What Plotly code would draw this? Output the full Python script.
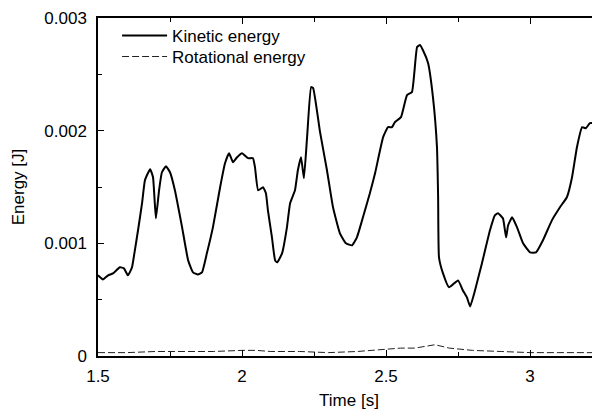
import plotly.graph_objects as go

# Kinetic energy (time in s, energy in J)
kin_t = [1.500, 1.517, 1.535, 1.552, 1.576, 1.590, 1.604, 1.618, 1.628, 1.639,
         1.653, 1.663, 1.681, 1.691, 1.701, 1.712, 1.722, 1.736, 1.750, 1.767,
         1.792, 1.813, 1.830, 1.847, 1.861, 1.878, 1.899, 1.924, 1.941, 1.955,
         1.969, 1.983, 2.000, 2.021, 2.038, 2.045, 2.056, 2.073, 2.083, 2.090,
         2.104, 2.115, 2.122, 2.139, 2.156, 2.167, 2.184, 2.194, 2.205, 2.215,
         2.226, 2.240, 2.247, 2.271, 2.295, 2.316, 2.340, 2.361, 2.382, 2.399,
         2.420, 2.444, 2.462, 2.490, 2.507, 2.521, 2.531, 2.552, 2.573, 2.590,
         2.608, 2.618, 2.628, 2.646, 2.663, 2.677, 2.681, 2.684, 2.698, 2.719,
         2.750, 2.767, 2.781, 2.792, 2.809, 2.833, 2.861, 2.878, 2.889, 2.906,
         2.917, 2.924, 2.938, 2.955, 2.976, 3.000, 3.021, 3.045, 3.076, 3.104,
         3.128, 3.146, 3.163, 3.181, 3.194, 3.208, 3.219, 3.233, 3.240, 3.247]
kin_e = [0.716, 0.680, 0.716, 0.733, 0.787, 0.778, 0.716, 0.787, 0.938, 1.116,
         1.356, 1.560, 1.658, 1.587, 1.222, 1.471, 1.631, 1.684, 1.631, 1.471,
         1.142, 0.849, 0.742, 0.724, 0.742, 0.911, 1.142, 1.498, 1.711, 1.800,
         1.720, 1.764, 1.800, 1.756, 1.756, 1.676, 1.471, 1.498, 1.444, 1.293,
         1.053, 0.849, 0.831, 0.911, 1.142, 1.356, 1.471, 1.649, 1.764, 1.578,
         1.942, 2.387, 2.378, 1.987, 1.649, 1.320, 1.089, 1.000, 0.982, 1.053,
         1.231, 1.444, 1.622, 1.942, 2.031, 2.031, 2.076, 2.120, 2.316, 2.342,
         2.742, 2.760, 2.716, 2.600, 2.298, 1.853, 1.409, 0.876, 0.733, 0.609,
         0.671, 0.582, 0.520, 0.440, 0.582, 0.822, 1.116, 1.249, 1.267, 1.222,
         1.053, 1.160, 1.231, 1.142, 1.000, 0.920, 0.920, 1.027, 1.204, 1.320,
         1.409, 1.587, 1.853, 2.031, 2.022, 2.067, 2.067, 1.933, 1.738, 1.649]
kin_e = [v * 1e-3 for v in kin_e]

# Rotational energy
rot_t = [1.50, 1.60, 1.70, 1.80, 1.90, 2.00, 2.05, 2.10, 2.20, 2.30, 2.40,
         2.50, 2.55, 2.60, 2.67, 2.72, 2.80, 2.90, 3.00, 3.10, 3.25]
rot_e = [0.00003, 0.00003, 0.00004, 0.00004, 0.00004, 0.00005, 0.00005,
         0.00004, 0.00004, 0.00003, 0.00004, 0.00006, 0.00007, 0.00007,
         0.00010, 0.00007, 0.00005, 0.00004, 0.00003, 0.00003, 0.00003]

x_ticks = [1.5, 2, 2.5, 3]
x_labels = ["1.5", "2", "2.5", "3"]
y_ticks = [0, 0.001, 0.002, 0.003]
y_labels = ["0", "0.001", "0.002", "0.003"]

FONT = "Liberation Sans, Arial, Helvetica, sans-serif"

fig = go.Figure()
fig.add_trace(go.Scatter(x=kin_t, y=kin_e, mode="lines", name="Kinetic energy",
                         legend="legend",
                         line=dict(color="black", width=2, shape="spline", smoothing=0.4)))
fig.add_trace(go.Scatter(x=rot_t, y=rot_e, mode="lines", name="Rotational energy",
                         legend="legend2",
                         line=dict(color="#222222", width=1, dash="7px,3px")))

axis_common = dict(showline=True, linecolor="black", linewidth=1.5, mirror="allticks",
                   ticks="inside", ticklen=6, tickwidth=1, tickcolor="black",
                   showgrid=False, zeroline=False, automargin=False,
                   tickfont=dict(family=FONT, size=17, color="black"))

fig.update_xaxes(range=[1.5, 1.5 + 502 / 288], tickvals=x_ticks, ticktext=x_labels,
                 minor=dict(ticks="inside", dtick=0.25, ticklen=4, tickcolor="black", showgrid=False),
                 title=dict(text="Time [s]", font=dict(family=FONT, size=17, color="black")),
                 ticklabelstandoff=4,
                 **axis_common)
fig.update_yaxes(range=[0, 0.003], tickvals=y_ticks, ticktext=y_labels,
                 minor=dict(ticks="inside", dtick=0.0005, ticklen=4, tickcolor="black", showgrid=False),
                 title=dict(text="Energy [J]", font=dict(family=FONT, size=17, color="black")),
                 ticklabelstandoff=6,
                 **axis_common)

leg_common = dict(xanchor="left", yanchor="top", bgcolor="rgba(0,0,0,0)",
                  font=dict(family=FONT, size=17, color="black"), itemwidth=45)

# page body has an 8px margin, so the figure is offset by (8, 8)
fig.update_layout(width=592, height=402, margin=dict(l=90, r=0, t=10, b=54),
                  paper_bgcolor="white", plot_bgcolor="white",
                  font=dict(family=FONT, size=17, color="black"),
                  legend=dict(x=0.038, y=1.0, **leg_common),
                  legend2=dict(x=0.038, y=0.938, **leg_common),
                  showlegend=True)

fig.write_html("out.html")
